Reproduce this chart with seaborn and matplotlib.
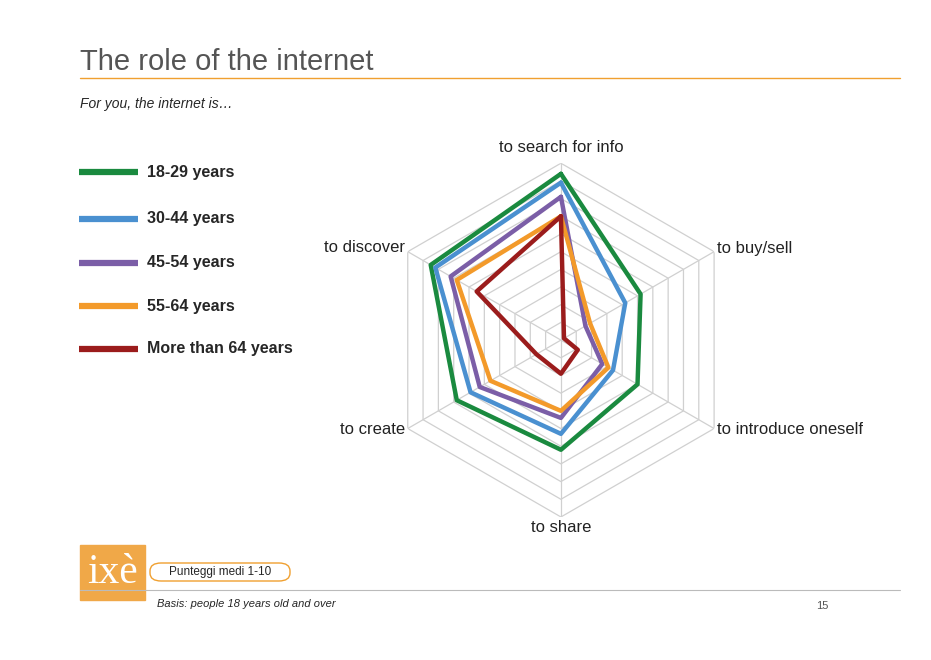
import numpy as np
import pandas as pd
import matplotlib
matplotlib.use("Agg")
import matplotlib.pyplot as plt
from matplotlib.patches import FancyBboxPatch, Rectangle
import seaborn as sns

axes_labels = ["to search for info", "to buy/sell", "to introduce oneself",
               "to share", "to create", "to discover"]
groups = ["18-29 years", "30-44 years", "45-54 years", "55-64 years", "More than 64 years"]
colors = ["#1a8a3f", "#4a90d0", "#7b5ea7", "#f39a2a", "#9b1c1c"]
v_18_29 = [9.4, 5.2, 5.0, 6.2, 6.8, 8.5]
v_30_44 = [8.9, 4.2, 3.4, 5.3, 5.9, 8.2]
v_45_54 = [8.1, 1.6, 2.7, 4.4, 5.3, 7.2]
v_55_64 = [7.0, 1.9, 3.1, 4.0, 4.6, 6.8]
v_65 = [7.0, 0.2, 1.1, 1.9, 1.6, 5.5]
series = [v_18_29, v_30_44, v_45_54, v_55_64, v_65]

sns.set_style("white")
plt.rcParams["font.family"] = ["Liberation Sans", "DejaVu Sans"]

fig = plt.figure(figsize=(9.31, 6.6), dpi=100)
ax = fig.add_axes([0.4125, 0.2167, 0.380, 0.536], projection="polar")
ax.set_theta_offset(np.pi / 2)
ax.set_theta_direction(-1)
ax.set_ylim(0, 10)
ax.axis("off")

theta = np.linspace(0, 2 * np.pi, 7)
for r in range(1, 11):
    ax.plot(theta, [r] * 7, color="#d0d0d0", lw=0.9, zorder=1)
for t in theta[:-1]:
    ax.plot([t, t], [0, 10], color="#d0d0d0", lw=0.9, zorder=1)

for name, vals, c in zip(groups, series, colors):
    df = pd.DataFrame({"theta": theta, "value": vals + vals[:1]})
    sns.lineplot(data=df, x="theta", y="value", sort=False, color=c, lw=3.2, ax=ax, zorder=3)
ax.set_xlabel("")
ax.set_ylabel("")

# axis labels
label_pos = [(561, 147, "center"), (717, 248, "left"), (717, 429, "left"),
             (561, 528, "center"), (405, 429, "right"), (405, 248, "right")]
for lab, (x, y, ha) in zip(axes_labels, label_pos):
    fig.text(x / 931, 1 - y / 660, lab, ha=ha, va="center", fontsize=12, color="#222222")

# header
fig.text(80 / 931, 1 - 62 / 660, "The role of the internet", fontsize=21, color="#555555", va="center")
fig.add_artist(plt.Line2D([80 / 931, 900 / 931], [1 - 78 / 660] * 2, color="#f0a030", lw=1))
fig.text(80 / 931, 1 - 104 / 660, "For you, the internet is\u2026", fontsize=10, style="italic", va="center")

# legend
leg_y = [172, 219, 263, 306, 349]
for name, c, y in zip(groups, colors, leg_y):
    fig.add_artist(plt.Line2D([79 / 931, 138 / 931], [1 - y / 660] * 2, color=c, lw=4.5,
                              solid_capstyle="butt"))
    fig.text(147 / 931, 1 - y / 660, name, fontsize=11.5, fontweight="bold", va="center")

# footer
fig.add_artist(Rectangle((80 / 931, 1 - 600 / 660), 65 / 931, 55 / 660, color="#f0a848",
                         transform=fig.transFigure))
fig.text(112 / 931, 1 - 573 / 660, "ix\u00e8", fontsize=30, color="white", ha="center", va="center",
         family=["Liberation Serif", "DejaVu Serif"])
fig.add_artist(FancyBboxPatch((150 / 931, 1 - 581 / 660), 140 / 931, 18 / 660,
                              boxstyle="round,pad=0,rounding_size=0.012", fc="white", ec="#f0a030",
                              lw=1, transform=fig.transFigure))
fig.text(220 / 931, 1 - 572 / 660, "Punteggi medi 1-10", fontsize=8.5, ha="center", va="center")
fig.add_artist(plt.Line2D([80 / 931, 900 / 931], [1 - 590 / 660] * 2, color="#bbbbbb", lw=0.8))
fig.text(157 / 931, 1 - 604 / 660, "Basis: people 18 years old and over", fontsize=8, style="italic", va="center")
fig.text(822 / 931, 1 - 606 / 660, "15", fontsize=8, color="#555555", ha="center", va="center")

fig.savefig("out.png", dpi=100)
